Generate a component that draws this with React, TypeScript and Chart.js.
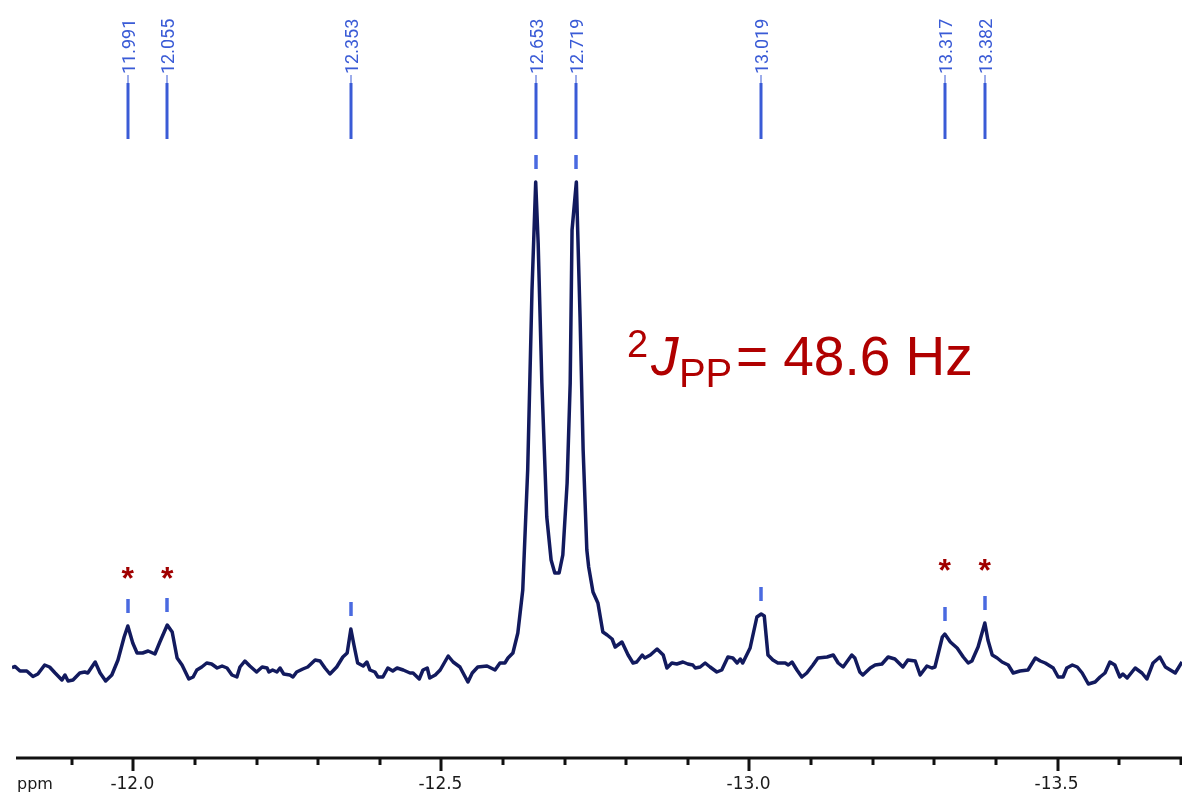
import React, { useEffect, useRef } from "react";
import { Chart, registerables } from "chart.js";

Chart.register(...registerables);

// Chemical shift (ppm) of each sampled point of the 31P spectrum
const PPM = [
  -11.803, -11.808, -11.816, -11.827, -11.837, -11.845, -11.856, -11.864, -11.873, -11.884,
  -11.889, -11.894, -11.902, -11.913, -11.921, -11.926, -11.938, -11.946, -11.955, -11.965,
  -11.975, -11.985, -11.991, -11.999, -12.006, -12.015, -12.024, -12.035, -12.043, -12.055,
  -12.063, -12.071, -12.079, -12.090, -12.097, -12.103, -12.111, -12.119, -12.127, -12.136,
  -12.144, -12.152, -12.160, -12.168, -12.173, -12.181, -12.189, -12.200, -12.209, -12.217,
  -12.220, -12.226, -12.233, -12.238, -12.244, -12.254, -12.259, -12.265, -12.275, -12.283,
  -12.295, -12.303, -12.311, -12.319, -12.330, -12.340, -12.347, -12.353, -12.358, -12.364,
  -12.373, -12.379, -12.384, -12.392, -12.397, -12.405, -12.413, -12.421, -12.428, -12.438,
  -12.449, -12.454, -12.464, -12.470, -12.477, -12.481, -12.490, -12.498, -12.511, -12.519,
  -12.530, -12.543, -12.550, -12.559, -12.574, -12.587, -12.595, -12.603, -12.608, -12.616,
  -12.624, -12.632, -12.640, -12.647, -12.653, -12.657, -12.663, -12.671, -12.678, -12.684,
  -12.691, -12.697, -12.704, -12.709, -12.712, -12.719, -12.725, -12.730, -12.736, -12.739,
  -12.746, -12.754, -12.762, -12.769, -12.777, -12.782, -12.793, -12.803, -12.811, -12.817,
  -12.826, -12.830, -12.839, -12.850, -12.860, -12.866, -12.874, -12.882, -12.892, -12.900,
  -12.908, -12.912, -12.920, -12.928, -12.936, -12.947, -12.955, -12.965, -12.973, -12.980,
  -12.985, -12.989, -13.001, -13.012, -13.019, -13.024, -13.030, -13.038, -13.046, -13.058,
  -13.063, -13.069, -13.077, -13.085, -13.093, -13.103, -13.111, -13.126, -13.136, -13.144,
  -13.152, -13.166, -13.171, -13.179, -13.184, -13.196, -13.204, -13.215, -13.225, -13.236,
  -13.249, -13.257, -13.269, -13.277, -13.288, -13.296, -13.301, -13.313, -13.317, -13.326,
  -13.337, -13.347, -13.355, -13.361, -13.371, -13.382, -13.387, -13.394, -13.402, -13.410,
  -13.420, -13.428, -13.439, -13.452, -13.464, -13.472, -13.480, -13.493, -13.501, -13.509,
  -13.515, -13.524, -13.532, -13.540, -13.550, -13.561, -13.569, -13.577, -13.585, -13.593,
  -13.601, -13.606, -13.613, -13.626, -13.637, -13.645, -13.655, -13.666, -13.675, -13.683,
  -13.691, -13.702,
];

// Signal intensity (arbitrary units) at each point
const INTENSITY = [
  -0.5, -0.3, -1.2, -1.2, -2.3, -1.8, 0, -0.4, -1.6, -3.0,
  -2.0, -3.2, -3.0, -1.6, -1.4, -1.6, 0.6, -1.6, -3.2, -2.0,
  1.0, 5.6, 7.8, 4.4, 2.4, 2.4, 2.8, 2.2, 4.6, 8.0,
  6.6, 1.4, 0, -2.8, -2.4, -1.0, -0.4, 0.4, 0.2, -0.6,
  -0.2, -0.6, -2.0, -2.4, -0.4, 0.8, -0.2, -1.4, -0.4, -0.6,
  -1.4, -1.0, -1.4, -0.6, -1.8, -2.0, -2.4, -1.4, -0.8, -0.4,
  1.0, 0.8, -0.6, -1.8, -0.4, 1.6, 2.4, 7.2, 4.0, 0.4,
  -0.2, 0.6, -1.0, -1.4, -2.4, -2.4, -0.6, -1.2, -0.6, -1.0,
  -1.6, -1.6, -2.8, -1.0, -0.6, -2.6, -2.0, -1.0, 1.8, 0.6,
  -0.4, -3.4, -1.6, -0.4, -0.2, -1.0, 0.4, 0.4, 1.4, 2.4,
  6.4, 15.0, 39.0, 75.0, 96.6, 84.4, 56.4, 29.6, 21.0, 18.4,
  18.4, 22.0, 36.4, 56.4, 87.0, 96.6, 69.6, 43.0, 23.0, 19.6,
  14.6, 12.4, 6.6, 6.0, 5.2, 3.6, 4.6, 2.0, 0.4, 0.6,
  2.0, 1.4, 2.0, 3.2, 2.0, -0.6, 0.4, 0.2, 0.6, 0.2,
  0, -0.6, -0.4, 0.4, -0.4, -1.4, -1.0, 1.6, 1.4, 0.4,
  1.2, 0.4, 3.4, 9.6, 10.2, 9.8, 2.0, 1.0, 0.4, 0.4,
  0, 0.6, -1.0, -2.4, -1.6, 0, 1.4, 1.6, 2.0, 0.4,
  -0.4, 2.0, 1.4, -1.4, -2.0, -0.6, 0, 0.2, 1.6, 1.2,
  -0.4, 1.0, 0.8, -2.0, -0.2, -0.6, -0.4, 5.6, 6.2, 4.6,
  3.4, 1.6, 0.4, 0.8, 3.6, 8.4, 5.0, 2.0, 1.4, 0.6,
  0, -1.6, -1.2, -1.0, 1.4, 0.8, 0.4, -0.6, -2.4, -2.4,
  -0.6, 0, -0.4, -1.6, -3.8, -3.4, -2.4, -1.6, 0.6, 0,
  -2.4, -1.8, -2.6, -0.6, -1.6, -2.8, 0.4, 1.6, -0.4, -1.0,
  -1.6, 0.6,
];

// Picked peaks
const PEAK_PPM = [-11.991, -12.055, -12.353, -12.653, -12.719, -13.019, -13.317, -13.382];
const PEAK_LABELS = ["11.991", "12.055", "12.353", "12.653", "12.719", "13.019", "13.317", "13.382"];

// Peaks marked with an asterisk, and the intensity level of the asterisk
const STAR_PPM = [-11.991, -12.055, -13.317, -13.382];
const STAR_LEVEL = [18.6, 18.6, 20.2, 20.2];

// Axis ticks
const MAJOR_TICKS = [-12.0, -12.5, -13.0, -13.5];
const MAJOR_TICK_LABELS = ["-12.0", "-12.5", "-13.0", "-13.5"];
const MINOR_TICKS = [-11.9, -12.1, -12.2, -12.3, -12.4, -12.6, -12.7, -12.8, -12.9, -13.1, -13.2, -13.3, -13.4, -13.6, -13.7];
const AXIS_UNIT = "ppm";

// Coupling annotation
const ANNOT_PPM = -12.801;
const ANNOT_LEVEL = 58;

const X_MIN = -13.702;
const X_MAX = -11.803;
const Y_MIN = -18.6;
const Y_MAX = 133;

const PEAK_BLUE = "#3a5bd6";
const MARK_BLUE = "#4a6ae0";
const DARK_RED = "#b00000";

const overlayPlugin = {
  id: "nmrOverlay",
  afterDraw(chart: any) {
    const { ctx, chartArea } = chart;
    const xs = chart.scales.x;
    const ys = chart.scales.y;
    ctx.save();

    // ---- x axis ----
    const axisY = chartArea.bottom;
    ctx.strokeStyle = "#111111";
    ctx.lineWidth = 3;
    ctx.lineCap = "butt";
    ctx.beginPath();
    ctx.moveTo(chartArea.left + 4, axisY);
    ctx.lineTo(chartArea.right, axisY);
    ctx.stroke();
    MINOR_TICKS.forEach((v) => {
      const px = Math.round(xs.getPixelForValue(v));
      ctx.beginPath();
      ctx.moveTo(px, axisY);
      ctx.lineTo(px, axisY + 7);
      ctx.stroke();
    });
    MAJOR_TICKS.forEach((v) => {
      const px = Math.round(xs.getPixelForValue(v));
      ctx.beginPath();
      ctx.moveTo(px, axisY);
      ctx.lineTo(px, axisY + 13);
      ctx.stroke();
    });
    ctx.fillStyle = "#1a1a1a";
    ctx.font = '17px "DejaVu Sans"';
    ctx.textAlign = "center";
    ctx.textBaseline = "alphabetic";
    MAJOR_TICKS.forEach((v, i) => {
      const px = xs.getPixelForValue(v);
      ctx.fillText(MAJOR_TICK_LABELS[i], px - 1, axisY + 31);
    });
    ctx.textAlign = "left";
    ctx.font = '16px "DejaVu Sans"';
    ctx.fillText(AXIS_UNIT, chartArea.left + 5, axisY + 31);

    // ---- peak labels at top ----
    PEAK_PPM.forEach((p, i) => {
      const px = Math.round(xs.getPixelForValue(p));
      ctx.strokeStyle = PEAK_BLUE;
      ctx.lineWidth = 3;
      ctx.beginPath();
      ctx.moveTo(px, 83);
      ctx.lineTo(px, 139);
      ctx.stroke();
      ctx.lineWidth = 1;
      ctx.beginPath();
      ctx.moveTo(px, 75);
      ctx.lineTo(px, 83);
      ctx.stroke();
      ctx.save();
      ctx.translate(px + 2, 74);
      ctx.rotate(-Math.PI / 2);
      ctx.fillStyle = PEAK_BLUE;
      ctx.font = '18px "Roboto"';
      ctx.textAlign = "left";
      ctx.textBaseline = "middle";
      ctx.fillText(PEAK_LABELS[i], 0, 0);
      ctx.restore();

      // small mark just above the peak maximum
      const idx = PPM.indexOf(p);
      if (idx >= 0) {
        const py = ys.getPixelForValue(INTENSITY[idx]);
        ctx.strokeStyle = MARK_BLUE;
        ctx.lineWidth = 3.5;
        ctx.beginPath();
        ctx.moveTo(px, py - 27);
        ctx.lineTo(px, py - 13);
        ctx.stroke();
      }
    });

    // ---- asterisks ----
    ctx.fillStyle = "#a00000";
    ctx.font = 'bold 32px "Liberation Sans"';
    ctx.textAlign = "center";
    ctx.textBaseline = "alphabetic";
    STAR_PPM.forEach((p, i) => {
      const px = xs.getPixelForValue(p);
      const py = ys.getPixelForValue(STAR_LEVEL[i]);
      ctx.fillText("*", px, py + 17);
    });

    // ---- coupling constant annotation ----
    const ax = xs.getPixelForValue(ANNOT_PPM);
    const ab = ys.getPixelForValue(ANNOT_LEVEL);
    ctx.fillStyle = DARK_RED;
    ctx.textAlign = "left";
    ctx.font = '38px "Liberation Sans"';
    ctx.fillText("2", ax, ab - 18);
    ctx.font = 'italic 55px "Liberation Sans"';
    ctx.fillText("J", ax + 24, ab);
    ctx.font = '40px "Liberation Sans"';
    ctx.fillText("PP", ax + 52, ab + 12);
    ctx.font = '55px "Liberation Sans"';
    ctx.fillText("= 48.6 Hz", ax + 109, ab);

    ctx.restore();
  },
};

export default function App() {
  const canvasRef = useRef<HTMLCanvasElement | null>(null);

  useEffect(() => {
    const canvas = canvasRef.current;
    if (!canvas) return;
    const points = PPM.map((p, i) => ({ x: p, y: INTENSITY[i] }));
    const chart = new Chart(canvas, {
      type: "line",
      data: {
        datasets: [
          {
            label: "31P NMR",
            data: points,
            borderColor: "#121a5e",
            borderWidth: 3.5,
            borderJoinStyle: "round",
            pointRadius: 0,
            tension: 0,
            fill: false,
          },
        ],
      },
      options: {
        responsive: false,
        animation: false,
        parsing: true,
        layout: { padding: { left: 12, right: 0, top: 0, bottom: 35 } },
        plugins: {
          legend: { display: false },
          tooltip: { enabled: false },
          title: { display: false },
        },
        scales: {
          x: {
            type: "linear",
            min: X_MIN,
            max: X_MAX,
            reverse: true,
            display: false,
          },
          y: {
            type: "linear",
            min: Y_MIN,
            max: Y_MAX,
            display: false,
          },
        },
      },
      plugins: [overlayPlugin],
    });
    return () => chart.destroy();
  }, []);

  return (
    <div
      style={{
        position: "fixed",
        left: 0,
        top: 0,
        width: 1182,
        height: 793,
        background: "#ffffff",
      }}
    >
      <canvas ref={canvasRef} width={1182} height={793} style={{ display: "block" }} />
    </div>
  );
}
